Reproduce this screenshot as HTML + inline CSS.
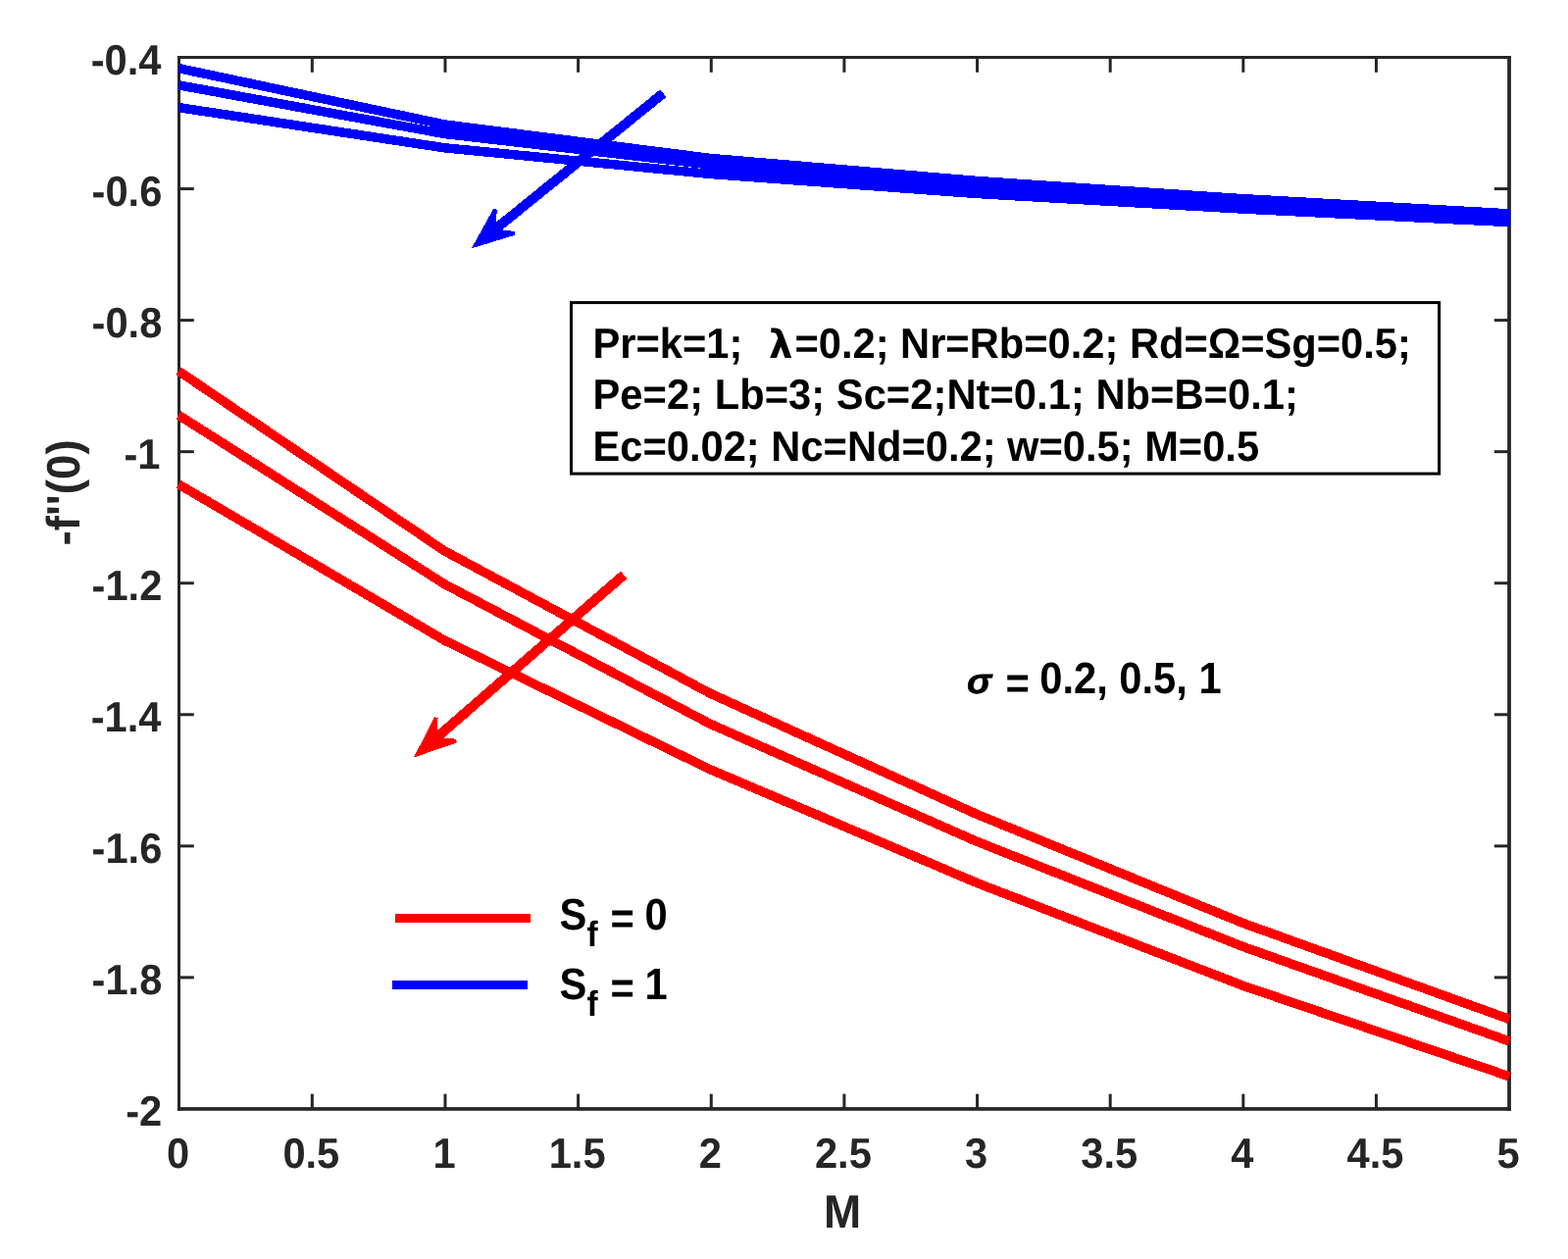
<!DOCTYPE html>
<html lang="en"><head><meta charset="utf-8"><title>-f''(0) versus M</title>
<style>html,body{margin:0;padding:0;background:#fff;}body{width:1599px;height:1284px;overflow:hidden;}svg{display:block;}text{font-family:"Liberation Sans", Arial, Helvetica, sans-serif;font-weight:bold;text-rendering:geometricPrecision;}</style>
</head><body>
<svg width="1599" height="1284" viewBox="0 0 1599 1284">
<rect x="0" y="0" width="1599" height="1284" fill="#ffffff"/>
<g stroke="#262626" stroke-width="3.00" fill="none" stroke-linecap="butt">
<line x1="318.34" y1="1130.95" x2="318.34" y2="1115.65"/>
<line x1="318.34" y1="58.50" x2="318.34" y2="73.80"/>
<line x1="453.98" y1="1130.95" x2="453.98" y2="1115.65"/>
<line x1="453.98" y1="58.50" x2="453.98" y2="73.80"/>
<line x1="589.62" y1="1130.95" x2="589.62" y2="1115.65"/>
<line x1="589.62" y1="58.50" x2="589.62" y2="73.80"/>
<line x1="725.26" y1="1130.95" x2="725.26" y2="1115.65"/>
<line x1="725.26" y1="58.50" x2="725.26" y2="73.80"/>
<line x1="860.90" y1="1130.95" x2="860.90" y2="1115.65"/>
<line x1="860.90" y1="58.50" x2="860.90" y2="73.80"/>
<line x1="996.54" y1="1130.95" x2="996.54" y2="1115.65"/>
<line x1="996.54" y1="58.50" x2="996.54" y2="73.80"/>
<line x1="1132.18" y1="1130.95" x2="1132.18" y2="1115.65"/>
<line x1="1132.18" y1="58.50" x2="1132.18" y2="73.80"/>
<line x1="1267.82" y1="1130.95" x2="1267.82" y2="1115.65"/>
<line x1="1267.82" y1="58.50" x2="1267.82" y2="73.80"/>
<line x1="1403.46" y1="1130.95" x2="1403.46" y2="1115.65"/>
<line x1="1403.46" y1="58.50" x2="1403.46" y2="73.80"/>
<line x1="182.50" y1="192.56" x2="197.80" y2="192.56"/>
<line x1="1539.10" y1="192.56" x2="1523.80" y2="192.56"/>
<line x1="182.50" y1="326.61" x2="197.80" y2="326.61"/>
<line x1="1539.10" y1="326.61" x2="1523.80" y2="326.61"/>
<line x1="182.50" y1="460.67" x2="197.80" y2="460.67"/>
<line x1="1539.10" y1="460.67" x2="1523.80" y2="460.67"/>
<line x1="182.50" y1="594.73" x2="197.80" y2="594.73"/>
<line x1="1539.10" y1="594.73" x2="1523.80" y2="594.73"/>
<line x1="182.50" y1="728.78" x2="197.80" y2="728.78"/>
<line x1="1539.10" y1="728.78" x2="1523.80" y2="728.78"/>
<line x1="182.50" y1="862.84" x2="197.80" y2="862.84"/>
<line x1="1539.10" y1="862.84" x2="1523.80" y2="862.84"/>
<line x1="182.50" y1="996.89" x2="197.80" y2="996.89"/>
<line x1="1539.10" y1="996.89" x2="1523.80" y2="996.89"/>
</g>
<g fill="#262626">
<rect x="181.00" y="57.00" width="3.00" height="1075.80"/>
<rect x="1537.15" y="57.00" width="3.75" height="1075.80"/>
<rect x="181.00" y="57.00" width="1359.90" height="3.00"/>
<rect x="181.00" y="1129.10" width="1359.90" height="3.70"/>
</g>
<g fill="#262626" font-size="41.67">
<text transform="translate(0 1191.00) scale(1 1.040)" x="181.70" y="0" text-anchor="middle">0</text>
<text transform="translate(0 1191.00) scale(1 1.040)" x="317.34" y="0" text-anchor="middle">0.5</text>
<text transform="translate(0 1191.00) scale(1 1.040)" x="452.98" y="0" text-anchor="middle">1</text>
<text transform="translate(0 1191.00) scale(1 1.040)" x="588.62" y="0" text-anchor="middle">1.5</text>
<text transform="translate(0 1191.00) scale(1 1.040)" x="724.26" y="0" text-anchor="middle">2</text>
<text transform="translate(0 1191.00) scale(1 1.040)" x="859.90" y="0" text-anchor="middle">2.5</text>
<text transform="translate(0 1191.00) scale(1 1.040)" x="995.54" y="0" text-anchor="middle">3</text>
<text transform="translate(0 1191.00) scale(1 1.040)" x="1131.18" y="0" text-anchor="middle">3.5</text>
<text transform="translate(0 1191.00) scale(1 1.040)" x="1266.82" y="0" text-anchor="middle">4</text>
<text transform="translate(0 1191.00) scale(1 1.040)" x="1402.46" y="0" text-anchor="middle">4.5</text>
<text transform="translate(0 1191.00) scale(1 1.040)" x="1538.10" y="0" text-anchor="middle">5</text>
<text transform="translate(0 76.00) scale(1 1.040)" x="164.50" y="0" text-anchor="end">-0.4</text>
<text transform="translate(0 210.00) scale(1 1.040)" x="165.30" y="0" text-anchor="end">-0.6</text>
<text transform="translate(0 344.00) scale(1 1.040)" x="165.30" y="0" text-anchor="end">-0.8</text>
<text transform="translate(0 478.00) scale(1 1.040)" x="163.50" y="0" text-anchor="end">-1</text>
<text transform="translate(0 612.00) scale(1 1.040)" x="165.30" y="0" text-anchor="end">-1.2</text>
<text transform="translate(0 746.00) scale(1 1.040)" x="164.50" y="0" text-anchor="end">-1.4</text>
<text transform="translate(0 880.00) scale(1 1.040)" x="165.30" y="0" text-anchor="end">-1.6</text>
<text transform="translate(0 1014.00) scale(1 1.040)" x="165.30" y="0" text-anchor="end">-1.8</text>
<text transform="translate(0 1148.00) scale(1 1.040)" x="165.30" y="0" text-anchor="end">-2</text>
</g>
<text transform="translate(0 1252.00) scale(1 1.040)" x="859.00" y="0" text-anchor="middle" font-size="45.83" fill="#262626">M</text>
<text transform="translate(81.30 502.40) rotate(-90) scale(1 1.040)" text-anchor="middle" font-size="45.83" fill="#262626">-f''(0)</text>
<polyline points="182.00,378.30 453.42,562.00 724.84,707.50 996.26,830.50 1267.68,941.50 1539.10,1039.40" fill="none" stroke="#ff0000" stroke-width="9.50" stroke-linejoin="round" stroke-linecap="butt" shape-rendering="crispEdges"/>
<polyline points="182.00,423.30 453.42,595.80 724.84,738.60 996.26,858.30 1267.68,965.50 1539.10,1061.90" fill="none" stroke="#ff0000" stroke-width="9.50" stroke-linejoin="round" stroke-linecap="butt" shape-rendering="crispEdges"/>
<polyline points="182.00,493.80 453.42,653.20 724.84,785.00 996.26,900.50 1267.68,1005.30 1539.10,1097.80" fill="none" stroke="#ff0000" stroke-width="9.50" stroke-linejoin="round" stroke-linecap="butt" shape-rendering="crispEdges"/>
<polyline points="182.00,69.60 453.42,127.00 724.84,161.50 996.26,184.50 1267.68,202.70 1539.90,217.90" fill="none" stroke="#0000ff" stroke-width="9.50" stroke-linejoin="round" stroke-linecap="butt" shape-rendering="crispEdges"/>
<polyline points="182.00,86.80 453.42,136.50 724.84,168.00 996.26,189.70 1267.68,206.80 1539.90,221.30" fill="none" stroke="#0000ff" stroke-width="9.50" stroke-linejoin="round" stroke-linecap="butt" shape-rendering="crispEdges"/>
<polyline points="182.00,109.60 453.42,150.80 724.84,177.50 996.26,197.50 1267.68,213.10 1539.90,226.60" fill="none" stroke="#0000ff" stroke-width="9.50" stroke-linejoin="round" stroke-linecap="butt" shape-rendering="crispEdges"/>
<line x1="676.30" y1="95.20" x2="502.57" y2="235.69" stroke="#0000ff" stroke-width="10.00" shape-rendering="crispEdges"/><polygon points="480.80,253.30 503.20,212.94 506.89,213.68 505.29,233.49 525.00,236.07 524.96,239.84" fill="#0000ff" shape-rendering="crispEdges"/>
<line x1="636.10" y1="586.30" x2="443.03" y2="754.13" stroke="#ff0000" stroke-width="10.00" shape-rendering="crispEdges"/><polygon points="421.90,772.50 442.85,731.36 446.57,731.98 445.67,751.83 465.46,753.71 465.55,757.48" fill="#ff0000" shape-rendering="crispEdges"/>
<rect x="582.5" y="308.6" width="885.10" height="174.50" fill="#ffffff" stroke="#000000" stroke-width="3"/>
<g fill="#000000" font-size="41.67">
<text transform="translate(0 364.5) scale(1 1.040)" x="604.5" y="0" xml:space="preserve">Pr=k=1;  <tspan x="784.0" font-family="DejaVu Sans, sans-serif" font-size="38.5">λ</tspan><tspan x="810.4">=0.2; Nr=Rb=0.2; Rd=Ω=Sg=0.5;</tspan></text>
<text transform="translate(0 417.4) scale(1 1.040)" x="604.5" y="0" letter-spacing="0.05">Pe=2; Lb=3; Sc=2;Nt=0.1; Nb=B=0.1;</text>
<text transform="translate(0 469.9) scale(1 1.040)" x="604.5" y="0">Ec=0.02; Nc=Nd=0.2; w=0.5; M=0.5</text>
<text transform="translate(0 706.8) scale(1 0.95)" x="986" y="0" font-style="italic" font-size="38" stroke="#000000" stroke-width="0.7">σ</text>
<text transform="translate(0 706.6) scale(1 1.085)" x="1025.4" y="5.0">=<tspan x="1048.72" dy="-5.0"> 0.2, 0.5, 1</tspan></text>
</g>
<line x1="403" y1="936.5" x2="541.1" y2="936.5" stroke="#ff0000" stroke-width="9" shape-rendering="crispEdges"/>
<line x1="400" y1="1004.5" x2="538.1" y2="1004.5" stroke="#0000ff" stroke-width="9" shape-rendering="crispEdges"/>
<g fill="#000000" font-size="41.67">
<text transform="translate(0 947.8) scale(1 1.085)" x="570.6" y="0">S<tspan x="598.6" dy="15.8" font-size="33.5">f</tspan><tspan x="610.82" dy="-11.6"> =</tspan><tspan x="646.02" dy="-4.2"> 0</tspan></text>
<text transform="translate(0 1018.9) scale(1 1.085)" x="570.6" y="0">S<tspan x="598.6" dy="15.8" font-size="33.5">f</tspan><tspan x="610.82" dy="-11.6"> =</tspan><tspan x="646.02" dy="-4.2"> 1</tspan></text>
</g>
</svg>
</body></html>
